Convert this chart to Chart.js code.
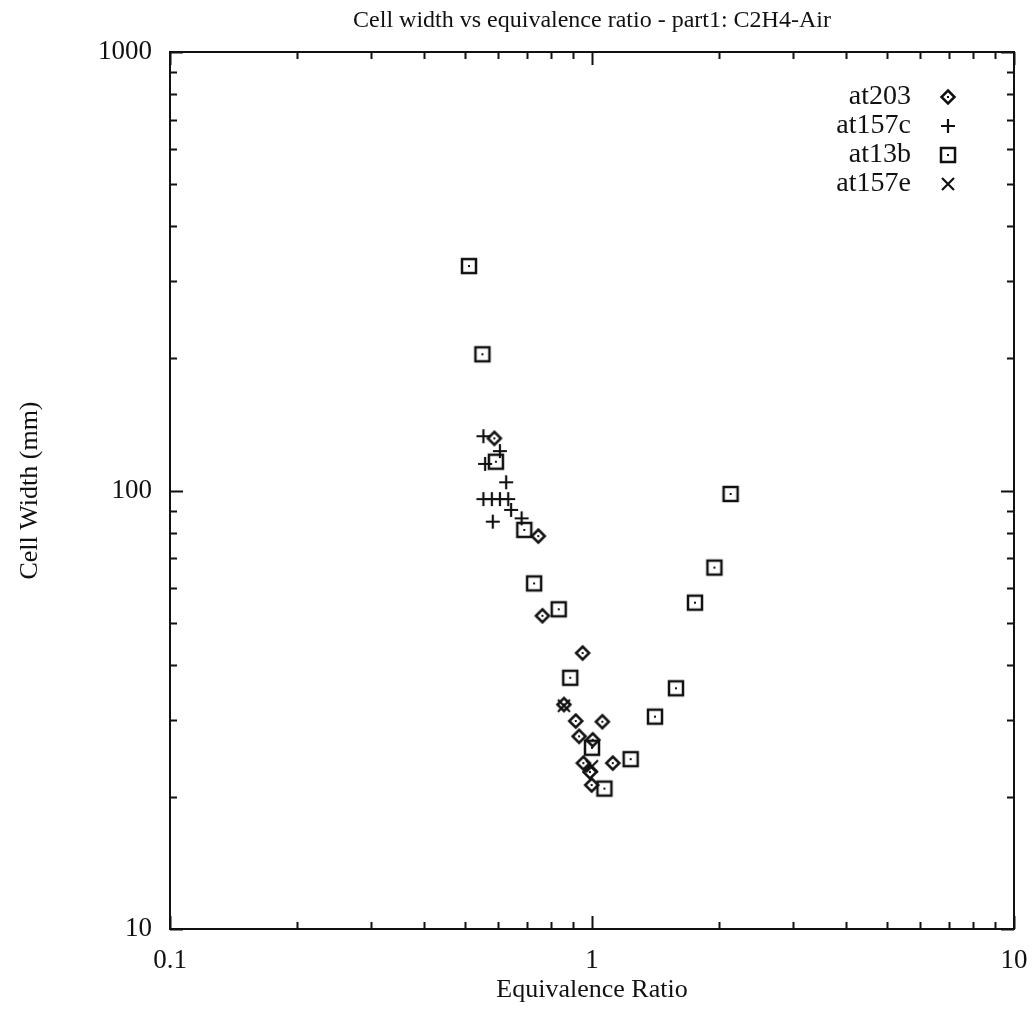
<!DOCTYPE html>
<html>
<head>
<meta charset="utf-8">
<title>Cell width vs equivalence ratio</title>
<script src="https://cdn.jsdelivr.net/npm/chart.js@4.4.0/dist/chart.umd.min.js"></script>
<style>
  html, body { margin: 0; padding: 0; background: #fff; }
  .chartBox { position: relative; width: 1034px; height: 1009px; }
</style>
</head>
<body>
<div class="chartBox"><canvas id="chart"></canvas></div>
<script>
// values (equivalence ratio, cell width in mm)
const at203Phi   = [0.587, 0.746, 0.763, 0.95, 0.858, 0.915, 1.058, 0.932, 1.004, 0.954, 1.12, 0.989, 0.998];
const at203Width = [131.5, 78.7, 51.8, 42.6, 32.5, 29.8, 29.7, 27.5, 27.0, 23.9, 23.9, 22.8, 21.3];

const at157cPhi   = [0.553, 0.605, 0.558, 0.626, 0.553, 0.579, 0.605, 0.633, 0.643, 0.681, 0.582];
const at157cWidth = [133, 123, 115, 104.4, 95.6, 95.6, 95.6, 95.6, 90.3, 86.4, 84.9];

const at13bPhi   = [0.511, 0.55, 0.592, 0.691, 0.729, 0.834, 0.888, 1.0, 1.07, 1.235, 1.41, 1.581, 1.754, 1.95, 2.13];
const at13bWidth = [325, 204.5, 116.3, 81.3, 61.4, 53.6, 37.4, 25.9, 20.9, 24.4, 30.5, 35.4, 55.5, 66.7, 98.2];

const at157ePhi   = [0.858, 1.0];
const at157eWidth = [32.3, 23.5];

const xTicks = [0.1, 1, 10];
const yTicks = [10, 100, 1000];

const chartTitle = "Cell width vs equivalence ratio - part1: C2H4-Air";

const SERIF = "'Liberation Serif', 'DejaVu Serif', serif";
const INK = "#111";

const toPoints = (xs, ys) => xs.map((x, i) => ({ x: x, y: ys[i] }));

// small canvases used as gnuplot-like point symbols
function makeMarker(kind) {
  const c = document.createElement("canvas");
  const s = kind === "square" ? 20 : 18;
  c.width = s;
  c.height = s;
  const g = c.getContext("2d");
  const m = s / 2;
  g.strokeStyle = INK;
  g.fillStyle = INK;
  g.lineWidth = 2.5;
  if (kind === "square") {
    g.strokeRect(3, 3, 14, 14);
    g.fillRect(m - 1, m - 1, 2, 2);
  } else if (kind === "diamond") {
    g.beginPath();
    g.moveTo(m, 2.5);
    g.lineTo(s - 2.5, m);
    g.lineTo(m, s - 2.5);
    g.lineTo(2.5, m);
    g.closePath();
    g.stroke();
    g.fillRect(m - 1, m - 1, 2, 2);
  } else if (kind === "plus") {
    g.lineWidth = 2.2;
    g.beginPath();
    g.moveTo(m, 2); g.lineTo(m, s - 2);
    g.moveTo(2, m); g.lineTo(s - 2, m);
    g.stroke();
  } else {
    g.lineWidth = 2.2;
    g.beginPath();
    g.moveTo(3, 3); g.lineTo(s - 3, s - 3);
    g.moveTo(s - 3, 3); g.lineTo(3, s - 3);
    g.stroke();
  }
  return c;
}

const markers = {
  diamond: makeMarker("diamond"),
  plus: makeMarker("plus"),
  square: makeMarker("square"),
  cross: makeMarker("cross"),
};

// frame with inward ticks on all four sides, title over the plot area, key
const frameTicks = {
  id: "frameTicks",
  afterDraw(chart) {
    const { ctx, chartArea: a, scales } = chart;
    ctx.save();
    ctx.strokeStyle = INK;
    ctx.lineWidth = 2;
    ctx.strokeRect(a.left, a.top, a.right - a.left, a.bottom - a.top);

    const tickVals = (min, max) => {
      const out = [];
      for (let d = min; d < max * 1.0001; d *= 10) {
        for (let k = 1; k <= 9; k++) {
          const v = d * k;
          if (v > max * 1.0001) break;
          out.push({ v: v, major: k === 1 });
        }
      }
      return out;
    };

    ctx.beginPath();
    tickVals(0.1, 10).forEach((t) => {
      const px = Math.round(scales.x.getPixelForValue(t.v)) + 0.5;
      const len = t.major ? 13 : 7;
      ctx.moveTo(px, a.bottom); ctx.lineTo(px, a.bottom - len);
      ctx.moveTo(px, a.top); ctx.lineTo(px, a.top + len);
    });
    tickVals(10, 1000).forEach((t) => {
      const py = Math.round(scales.y.getPixelForValue(t.v)) + 0.5;
      const len = t.major ? 13 : 7;
      ctx.moveTo(a.left, py); ctx.lineTo(a.left + len, py);
      ctx.moveTo(a.right, py); ctx.lineTo(a.right - len, py);
    });
    ctx.stroke();

    ctx.fillStyle = INK;
    ctx.textBaseline = "middle";

    // title, centred over the plot area
    ctx.font = "24px " + SERIF;
    ctx.textAlign = "center";
    ctx.fillText(chartTitle, (a.left + a.right) / 2, 21);

    // key in the top right corner
    ctx.font = "28px " + SERIF;
    ctx.textAlign = "right";
    chart.data.datasets.forEach((ds, i) => {
      const y = a.top + 45 + i * 29;
      ctx.fillText(ds.label, a.right - 103, y);
      const img = ds.pointStyle;
      ctx.drawImage(img, a.right - 66 - img.width / 2, y - img.height / 2);
    });
    ctx.restore();
  },
};

new Chart(document.getElementById("chart"), {
  type: "scatter",
  data: {
    datasets: [
      { label: "at203", data: toPoints(at203Phi, at203Width), pointStyle: markers.diamond, pointRadius: 6 },
      { label: "at157c", data: toPoints(at157cPhi, at157cWidth), pointStyle: markers.plus, pointRadius: 6 },
      { label: "at13b", data: toPoints(at13bPhi, at13bWidth), pointStyle: markers.square, pointRadius: 7 },
      { label: "at157e", data: toPoints(at157ePhi, at157eWidth), pointStyle: markers.cross, pointRadius: 6 },
    ],
  },
  options: {
    responsive: true,
    maintainAspectRatio: false,
    animation: false,
    layout: { padding: { right: 20, top: 52, left: 0, bottom: 0 } },
    plugins: {
      legend: { display: false },
      tooltip: { enabled: false },
      title: { display: false },
    },
    scales: {
      x: {
        type: "logarithmic",
        min: 0.1,
        max: 10,
        afterBuildTicks: (scale) => { scale.ticks = xTicks.map((v) => ({ value: v, major: true })); },
        afterFit: (scale) => {
          scale.height = 80;
          scale.paddingLeft = 0;
          scale.paddingRight = 0;
        },
        grid: { display: false, drawTicks: false },
        border: { display: false },
        ticks: {
          color: INK,
          padding: 16,
          maxRotation: 0,
          font: { family: SERIF, size: 27 },
          callback: (v) => String(v),
        },
        title: {
          display: true,
          text: "Equivalence Ratio",
          color: INK,
          font: { family: SERIF, size: 26 },
          padding: { top: 0, bottom: 3 },
        },
      },
      y: {
        type: "logarithmic",
        min: 10,
        max: 1000,
        afterBuildTicks: (scale) => { scale.ticks = yTicks.map((v) => ({ value: v, major: true })); },
        afterFit: (scale) => {
          scale.width = 170;
          scale.paddingTop = 0;
          scale.paddingBottom = 0;
        },
        grid: { display: false, drawTicks: false },
        border: { display: false },
        ticks: {
          color: INK,
          padding: 18,
          font: { family: SERIF, size: 27 },
          callback: (v) => String(v),
        },
        title: {
          display: true,
          text: "Cell Width (mm)",
          color: INK,
          font: { family: SERIF, size: 26 },
          padding: { top: 15, bottom: 0 },
        },
      },
    },
  },
  plugins: [frameTicks],
});
</script>
</body>
</html>
